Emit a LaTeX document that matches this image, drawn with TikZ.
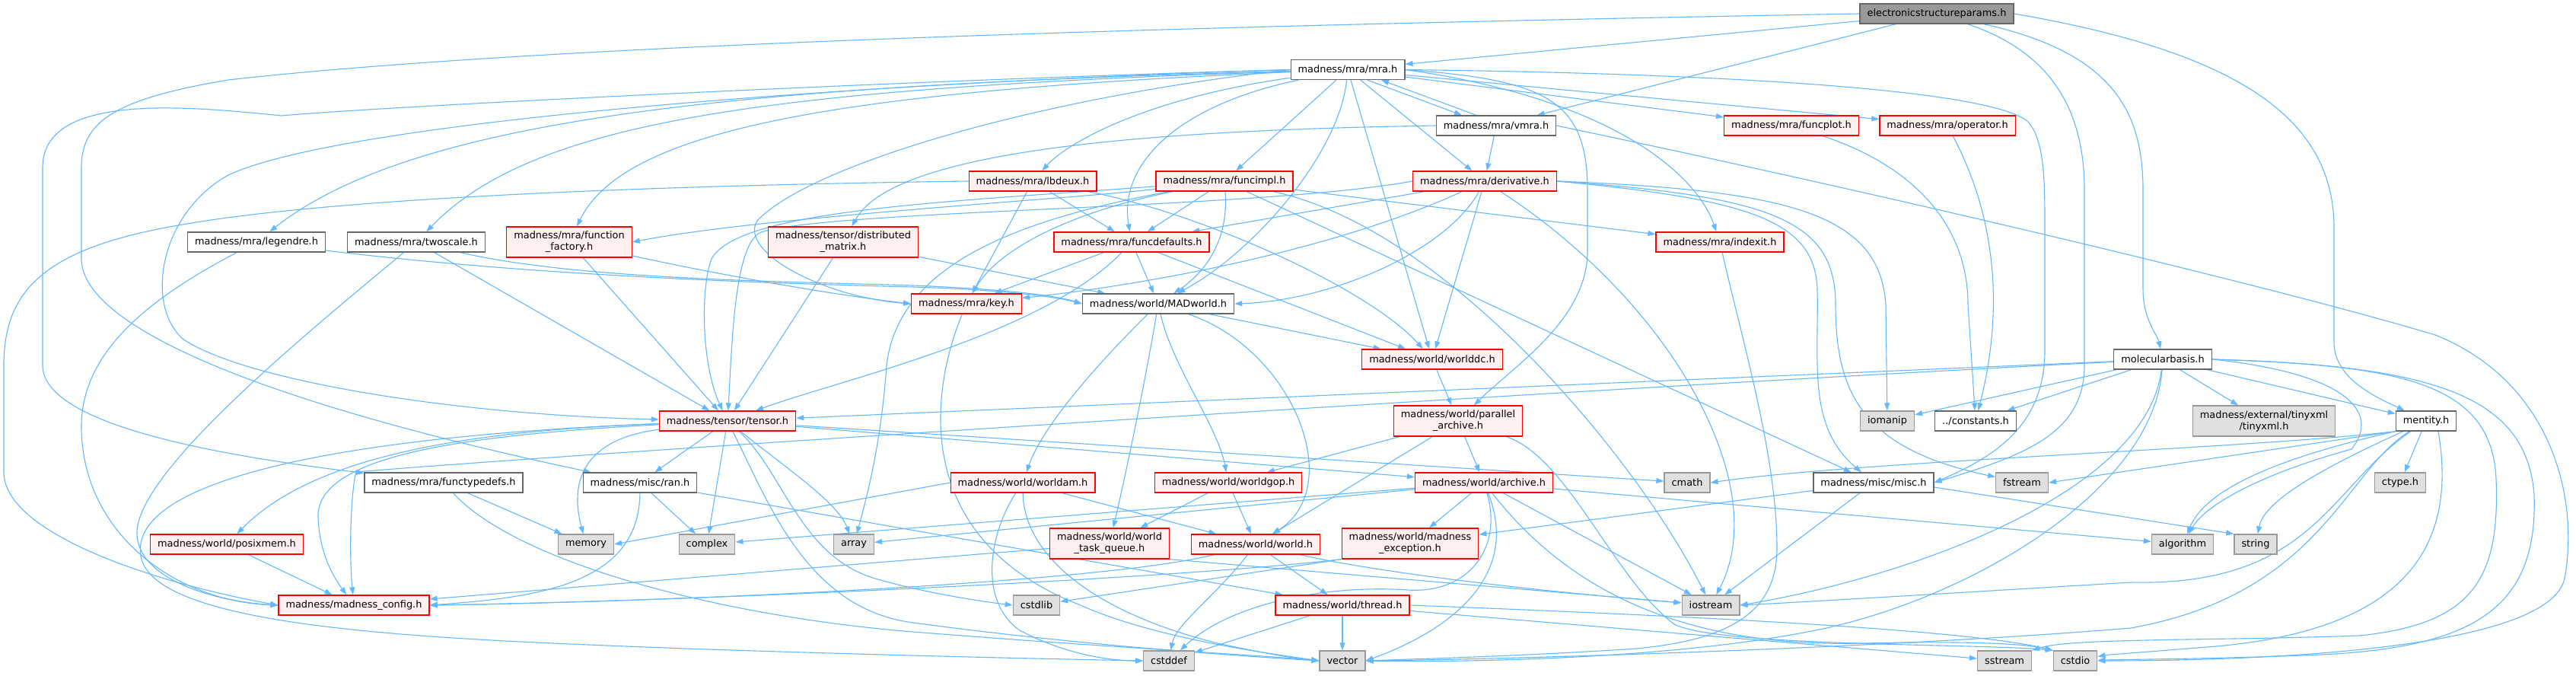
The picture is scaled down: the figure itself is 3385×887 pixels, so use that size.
\documentclass[tikz,border=0pt]{standalone}
\usepackage{fontspec}
\setmainfont{DejaVu Sans}
\usepackage{xcolor}
\definecolor{inclBlue}{HTML}{63B8FF}
\definecolor{redFill}{HTML}{FFF0F0}
\definecolor{redLine}{HTML}{FF0000}
\definecolor{sysFill}{HTML}{E0E0E0}
\definecolor{sysLine}{HTML}{999999}
\definecolor{plainLine}{HTML}{666666}
\definecolor{rootFill}{HTML}{999999}
\definecolor{rootLine}{HTML}{666666}
\usetikzlibrary{arrows.meta, backgrounds}

\begin{document}
\begin{tikzpicture}[
    x=1pt, y=-1pt,
    hdrbox/.style={
        rectangle,
        line width=1.3pt,
        inner xsep=9.5pt,
        inner ysep=0pt,
        minimum height=26pt,
        align=center,
        font=\fontsize{12.9}{15}\selectfont
    },
    plainbox/.style={hdrbox, draw=plainLine, fill=white},
    redbox/.style={hdrbox, draw=redLine, fill=redFill},
    sysbox/.style={hdrbox, draw=sysLine, fill=sysFill},
    rootbox/.style={hdrbox, draw=rootLine, fill=rootFill},
    twolines/.style={minimum height=40pt},
    incl/.style={-{Triangle[length=10pt, width=7pt]}, line width=1.1pt, draw=inclBlue}
]
\useasboundingbox (0,0) rectangle (3385,887);

\node[rootbox] (esp) at (2545,18) {electronicstructureparams.h};
\node[plainbox] (mra) at (1771,91.5) {madness/mra/mra.h};
\node[plainbox] (vmra) at (1966,165) {madness/mra/vmra.h};
\node[redbox] (funcplot) at (2354,165) {madness/mra/funcplot.h};
\node[redbox] (oper) at (2559,165) {madness/mra/operator.h};
\node[redbox] (lbdeux) at (1357,238) {madness/mra/lbdeux.h};
\node[redbox] (funcimpl) at (1609,238) {madness/mra/funcimpl.h};
\node[redbox] (deriv) at (1951,238) {madness/mra/derivative.h};
\node[plainbox] (legendre) at (337,318) {madness/mra/legendre.h};
\node[plainbox] (twoscale) at (547,318) {madness/mra/twoscale.h};
\node[redbox, twolines] (ffactory) at (748,318) {madness/mra/function\\\_factory.h};
\node[redbox, twolines] (distmat) at (1108,318) {madness/tensor/distributed\\\_matrix.h};
\node[redbox] (funcdef) at (1487,318) {madness/mra/funcdefaults.h};
\node[redbox] (indexit) at (2260,318) {madness/mra/indexit.h};
\node[redbox] (key) at (1270,399) {madness/mra/key.h};
\node[plainbox] (madworld) at (1522,399) {madness/world/MADworld.h};
\node[redbox] (worlddc) at (1882,472) {madness/world/worlddc.h};
\node[plainbox] (molbasis) at (2842,472) {molecularbasis.h};
\node[redbox] (tensor) at (956,553) {madness/tensor/tensor.h};
\node[redbox, twolines] (parchive) at (1916,553) {madness/world/parallel\\\_archive.h};
\node[sysbox] (iomanip) at (2480,553) {iomanip};
\node[plainbox] (constants) at (2596,553) {../constants.h};
\node[sysbox, twolines] (tinyxml) at (2975,553) {madness/external/tinyxml\\/tinyxml.h};
\node[plainbox] (mentity) at (3188,553) {mentity.h};
\node[plainbox] (functypedefs) at (583,634) {madness/mra/functypedefs.h};
\node[plainbox] (ran) at (841,634) {madness/misc/ran.h};
\node[redbox] (worldam) at (1344,634) {madness/world/worldam.h};
\node[redbox] (worldgop) at (1614,634) {madness/world/worldgop.h};
\node[redbox] (archive) at (1950,634) {madness/world/archive.h};
\node[sysbox] (cmath) at (2217,634) {cmath};
\node[plainbox] (misc) at (2462,634) {madness/misc/misc.h};
\node[sysbox] (fstream) at (2657,634) {fstream};
\node[sysbox] (ctype) at (3154,634) {ctype.h};
\node[redbox] (posixmem) at (298,715) {madness/world/posixmem.h};
\node[sysbox] (memory) at (770,715) {memory};
\node[sysbox] (complex) at (929,715) {complex};
\node[sysbox] (array) at (1122,715) {array};
\node[redbox, twolines] (wtq) at (1458,714) {madness/world/world\\\_task\_queue.h};
\node[redbox] (world) at (1650,715) {madness/world/world.h};
\node[redbox, twolines] (mexcept) at (1853,714) {madness/world/madness\\\_exception.h};
\node[sysbox] (algorithm) at (2868,715) {algorithm};
\node[sysbox] (stringh) at (2964,715) {string};
\node[redbox] (config) at (465,795) {madness/madness\_config.h};
\node[sysbox] (cstdlib) at (1362,795) {cstdlib};
\node[redbox] (thread) at (1764,795) {madness/world/thread.h};
\node[sysbox] (iostream) at (2248,795) {iostream};
\node[sysbox] (cstddef) at (1536,868) {cstddef};
\node[sysbox] (vector) at (1764,868) {vector};
\node[sysbox] (sstream) at (2634,868) {sstream};
\node[sysbox] (cstdio) at (2727,868) {cstdio};

\begin{scope}[on background layer]
\fill[white] (0,0) rectangle (3385,887);

\draw[incl] (esp) -- (mra);
\draw[incl] (esp) -- (vmra);
\draw[incl] (esp.west) .. controls (1500,35) and (700,60) .. (300,105) .. controls (150,130) and (107,160) .. (107,220) -- (107,340) .. controls (107,430) and (350,530) .. (ran);
\draw[incl] (esp) .. controls (2700,70) and (2739,150) .. (2739,250) -- (2739,480) .. controls (2739,570) and (2660,598) .. (misc.east);
\draw[incl] (esp) .. controls (2780,70) and (2816,150) .. (2816,250) -- (2816,380) .. controls (2816,420) and (2835,440) .. (molbasis);
\draw[incl] (esp.east) .. controls (2950,70) and (3067,160) .. (3067,300) -- (3067,450) .. controls (3067,500) and (3130,525) .. (mentity);

\draw[incl] (mra.west) .. controls (1200,105) and (500,140) .. (370,152) .. controls (250,140) and (56,120) .. (56,220) -- (56,480) .. controls (56,560) and (300,600) .. (functypedefs);
\draw[incl] (mra.west) .. controls (1100,110) and (450,160) .. (300,230) .. controls (210,280) and (190,400) .. (240,445) .. controls (320,500) and (600,545) .. (tensor);
\draw[incl] (mra) .. controls (1000,112) and (550,150) .. (legendre);
\draw[incl] (mra) .. controls (1000,116) and (700,160) .. (twoscale);
\draw[incl] (mra) .. controls (1100,120) and (820,170) .. (ffactory);
\draw[incl] (mra.west) .. controls (1350,130) and (1060,220) .. (995,290) .. controls (970,330) and (1080,390) .. (key.west);
\draw[incl] (mra) .. controls (1500,130) and (1400,190) .. (lbdeux);
\draw[incl] (mra) -- (funcimpl);
\draw[incl] (mra) .. controls (1540,140) and (1470,220) .. (funcdef);
\draw[incl] (mra) .. controls (1760,200) and (1650,330) .. (madworld);
\draw[incl] (mra) -- (worlddc);
\draw[incl] (mra) -- (deriv);
\draw[incl] ([xshift=26pt]mra.south) -- ([xshift=-45pt]vmra.north);
\draw[incl] ([xshift=-26pt]vmra.north) -- ([xshift=44pt]mra.south);
\draw[incl] (mra.east) .. controls (2030,105) and (2086,130) .. (2086,250) -- (2086,330) .. controls (2086,420) and (1990,480) .. (parchive);
\draw[incl] (mra.east) .. controls (2120,130) and (2230,230) .. (indexit);
\draw[incl] (mra) -- (funcplot);
\draw[incl] (mra) -- (oper);
\draw[incl] (mra.east) .. controls (2300,97) and (2620,120) .. (2665,160) .. controls (2687,185) and (2687,240) .. (2687,300) -- (2687,460) .. controls (2687,560) and (2620,600) .. (misc.east);

\draw[incl] (vmra) -- (deriv);
\draw[incl] (vmra.west) .. controls (1450,172) and (1170,205) .. (distmat);
\draw[incl] (vmra.east) .. controls (2500,260) and (3000,380) .. (3200,440) .. controls (3350,500) and (3390,650) .. (3370,760) .. controls (3350,850) and (3000,868) .. (cstdio.east);

\draw[incl] (lbdeux.west) .. controls (900,243) and (450,258) .. (240,295) .. controls (60,325) and (5,380) .. (5,480) -- (5,620) .. controls (5,700) and (200,765) .. (config.west);
\draw[incl] (lbdeux) -- (key);
\draw[incl] (lbdeux) -- (funcdef);
\draw[incl] (lbdeux) .. controls (1580,280) and (1800,380) .. (worlddc);

\draw[incl] (funcimpl) .. controls (1400,262) and (1000,285) .. (ffactory.east);
\draw[incl] (funcimpl) .. controls (1250,265) and (970,275) .. (935,340) .. controls (920,380) and (922,480) .. (tensor);
\draw[incl] (funcimpl) .. controls (1400,280) and (1310,330) .. (key);
\draw[incl] (funcimpl) -- (funcdef);
\draw[incl] (funcimpl) .. controls (1615,320) and (1580,360) .. (madworld);
\draw[incl] (funcimpl) -- (indexit);
\draw[incl] (funcimpl) .. controls (1900,300) and (2150,600) .. (iostream);
\draw[incl] (funcimpl) -- (misc);
\draw[incl] (funcimpl) .. controls (1330,290) and (1180,350) .. (1165,480) .. controls (1158,580) and (1140,650) .. (array);

\draw[incl] (deriv.west) .. controls (1650,275) and (1100,275) .. (1000,305) .. controls (965,320) and (962,450) .. (tensor);
\draw[incl] (deriv) -- (funcdef);
\draw[incl] (deriv) .. controls (1750,330) and (1500,375) .. (key);
\draw[incl] (deriv) .. controls (1900,330) and (1750,395) .. (madworld.east);
\draw[incl] (deriv) -- (worlddc);
\draw[incl] (deriv) .. controls (2200,400) and (2330,640) .. (iostream);
\draw[incl] (deriv.east) .. controls (2300,262) and (2385,290) .. (2388,380) .. controls (2390,480) and (2375,560) .. (misc);
\draw[incl] (deriv.east) .. controls (2330,258) and (2412,290) .. (2412,400) .. controls (2412,520) and (2450,590) .. (fstream);
\draw[incl] (deriv.east) .. controls (2350,250) and (2470,280) .. (2478,400) -- (iomanip);

\draw[incl] (legendre) .. controls (200,390) and (107,460) .. (107,560) .. controls (107,700) and (230,790) .. (config.west);
\draw[incl] (legendre) .. controls (700,362) and (1000,372) .. (1200,377) .. controls (1300,380) and (1380,388) .. (madworld.west);
\draw[incl] (twoscale) .. controls (760,368) and (1050,370) .. (1200,375) .. controls (1300,379) and (1380,386) .. (madworld.west);
\draw[incl] (twoscale) -- (tensor);
\draw[incl] (twoscale) .. controls (400,440) and (180,620) .. (180,700) .. controls (180,760) and (280,790) .. (config.west);
\draw[incl] (ffactory) -- (tensor);
\draw[incl] (ffactory) .. controls (950,362) and (1100,388) .. (key.west);
\draw[incl] (distmat) -- (tensor);
\draw[incl] (distmat) -- (madworld);

\draw[incl] (funcdef) -- (key);
\draw[incl] (funcdef) -- (madworld);
\draw[incl] (funcdef) -- (worlddc);
\draw[incl] (funcdef) .. controls (1370,440) and (1100,500) .. (tensor);

\draw[incl] (madworld) .. controls (1440,480) and (1370,560) .. (worldam);
\draw[incl] (madworld) .. controls (1505,500) and (1480,620) .. (wtq);
\draw[incl] (madworld) .. controls (1540,480) and (1600,560) .. (worldgop);
\draw[incl] (madworld) .. controls (1700,460) and (1770,640) .. (world);
\draw[incl] (madworld) -- (worlddc);

\draw[incl] (worlddc) -- (parchive);
\draw[incl] (parchive) -- (worldgop);
\draw[incl] (parchive) -- (world);
\draw[incl] (parchive) -- (archive);
\draw[incl] (parchive) .. controls (2060,600) and (2120,760) .. (2200,820) .. controls (2260,850) and (2600,845) .. (cstdio.north west);

\draw[incl] (archive) -- (mexcept);
\draw[incl] (archive) -- (complex);
\draw[incl] (archive) -- (array);
\draw[incl] (archive) -- (iostream);
\draw[incl] (archive) -- (algorithm);
\draw[incl] (archive) .. controls (2000,760) and (1900,830) .. (vector.east);
\draw[incl] (archive) .. controls (1975,720) and (1930,780) .. (1850,775) .. controls (1750,768) and (1620,790) .. (cstddef);
\draw[incl] (archive) .. controls (2080,800) and (2250,850) .. (2450,845) .. controls (2580,842) and (2660,845) .. (cstdio.north west);

\draw[incl] (worldgop) -- (wtq);
\draw[incl] (worldgop) -- (world);
\draw[incl] (worldam) -- (world);
\draw[incl] (worldam.west) -- (memory.east);
\draw[incl] (worldam) .. controls (1345,720) and (1420,800) .. (1600,845) .. controls (1680,862) and (1710,866) .. (vector.west);
\draw[incl] (worldam) .. controls (1300,700) and (1285,790) .. (1340,828) .. controls (1400,860) and (1460,868) .. (cstddef.west);
\draw[incl] (wtq) -- (config);
\draw[incl] (wtq.south east) -- (iostream);
\draw[incl] (world) .. controls (1450,765) and (900,790) .. (config.east);
\draw[incl] (world) .. controls (1600,780) and (1545,820) .. (cstddef);
\draw[incl] (world) -- (thread);
\draw[incl] (world) .. controls (1800,750) and (2000,775) .. (iostream);
\draw[incl] (thread) -- (cstddef);
\draw[incl] (thread) -- (vector);
\draw[incl] (thread) -- (sstream);
\draw[incl] (thread.east) .. controls (2300,812) and (2600,830) .. (cstdio.north west);
\draw[incl] (mexcept.south west) .. controls (1550,760) and (900,790) .. (config.east);
\draw[incl] (mexcept.south west) -- (cstdlib);

\draw[incl] (misc) -- (mexcept);
\draw[incl] (misc) -- (iostream);
\draw[incl] ([yshift=-6pt]misc.east) -- (stringh.north west);

\draw[incl] (molbasis) -- (tensor);
\draw[incl] (molbasis) .. controls (2000,515) and (700,600) .. (468,620) .. controls (462,640) and (458,720) .. (config);
\draw[incl] (molbasis) -- (iomanip);
\draw[incl] (molbasis) -- (constants);
\draw[incl] (molbasis) -- (tinyxml);
\draw[incl] (molbasis) -- (mentity);
\draw[incl] (molbasis) .. controls (2820,650) and (2500,760) .. (iostream.east);
\draw[incl] (molbasis) .. controls (2830,640) and (2600,780) .. (2400,825) .. controls (2200,868) and (1900,870) .. (vector.east);
\draw[incl] (molbasis.east) .. controls (3080,490) and (3130,540) .. (3090,590) .. controls (2980,620) and (2900,660) .. (algorithm);
\draw[incl] (molbasis.east) .. controls (3150,480) and (3275,500) .. (3280,630) .. controls (3285,760) and (3250,820) .. (3100,835) .. controls (2900,842) and (2720,838) .. (sstream.north east);
\draw[incl] (molbasis.east) .. controls (3200,480) and (3320,520) .. (3330,650) .. controls (3335,800) and (3250,850) .. (3050,860) .. controls (2900,866) and (2800,866) .. (cstdio);

\draw[incl] (mentity.south west) .. controls (2950,590) and (2450,605) .. (cmath.east);
\draw[incl] (mentity.south west) -- (fstream.east);
\draw[incl] (mentity.south west) .. controls (3000,600) and (2900,640) .. (algorithm);
\draw[incl] (mentity) .. controls (3040,620) and (2975,660) .. (stringh);
\draw[incl] (mentity) -- (ctype);
\draw[incl] (mentity) .. controls (3060,640) and (3040,770) .. (2800,765) .. controls (2550,780) and (2350,792) .. (iostream.east);
\draw[incl] (mentity) .. controls (3080,620) and (3050,780) .. (2800,825) .. controls (2500,850) and (2000,866) .. (vector.east);
\draw[incl] ([xshift=16pt]mentity.south) .. controls (3230,720) and (3160,830) .. (2900,850) .. controls (2800,858) and (2770,860) .. (cstdio);

\draw[incl] (tensor) .. controls (650,565) and (420,590) .. (posixmem);
\draw[incl] (tensor) .. controls (600,572) and (415,600) .. (418,680) .. controls (420,730) and (440,760) .. (config);
\draw[incl] (tensor) .. controls (400,575) and (170,640) .. (185,730) .. controls (200,830) and (600,840) .. (900,852) .. controls (1200,862) and (1400,866) .. (cstddef.west);
\draw[incl] (tensor) -- (ran);
\draw[incl] (tensor) .. controls (780,575) and (745,620) .. (memory);
\draw[incl] (tensor) -- (complex);
\draw[incl] (tensor) .. controls (1040,620) and (1100,660) .. (array);
\draw[incl] (tensor) .. controls (1030,620) and (1050,730) .. (1150,760) .. controls (1220,780) and (1290,790) .. (cstdlib.west);
\draw[incl] (tensor) .. controls (1010,660) and (1060,800) .. (1200,818) .. controls (1400,845) and (1600,860) .. (vector.west);
\draw[incl] (tensor) -- (cmath);
\draw[incl] (tensor) -- (archive);

\draw[incl] (posixmem) -- (config);
\draw[incl] (functypedefs) -- (memory);
\draw[incl] (functypedefs) .. controls (680,740) and (950,810) .. (1200,830) .. controls (1450,850) and (1650,860) .. (vector.west);
\draw[incl] (ran) -- (complex);
\draw[incl] (ran) .. controls (840,770) and (700,785) .. (config.east);
\draw[incl] (ran) -- (thread);
\draw[incl] (key) .. controls (1220,520) and (1200,710) .. (1420,795) .. controls (1520,840) and (1680,860) .. (vector.west);
\draw[incl] (indexit) .. controls (2290,450) and (2335,600) .. (2335,720) .. controls (2335,800) and (2280,840) .. (2150,852) .. controls (2000,862) and (1850,866) .. (vector.east);
\draw[incl] (funcplot) .. controls (2520,220) and (2586,300) .. (2586,400) -- (constants);
\draw[incl] (oper) .. controls (2620,280) and (2635,400) .. (constants);
\end{scope}
\end{tikzpicture}
\end{document}
